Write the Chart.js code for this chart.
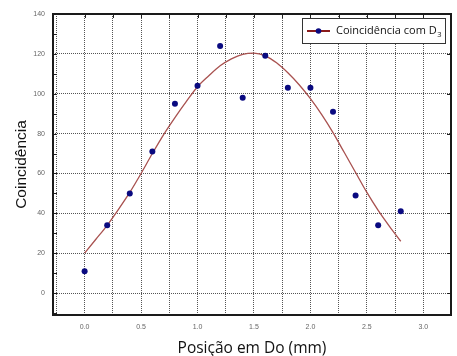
<!DOCTYPE html>
<html><head><meta charset="utf-8">
<script src="https://cdn.jsdelivr.net/npm/chart.js@4/dist/chart.umd.min.js"></script>
<style>html,body{margin:0;padding:0;background:#fff;} canvas{display:block;}</style>
</head><body>
<canvas id="c" width="457" height="356"></canvas>
<script>
// Measured points
const positions = [0.0, 0.2, 0.4, 0.6, 0.8, 1.0, 1.2, 1.4, 1.6, 1.8, 2.0, 2.2, 2.4, 2.6, 2.8];
const coincidences = [11, 34, 50, 71, 95, 104, 124, 98, 119, 103, 103, 91, 49, 34, 41];
// Fitted curve
const fitX = [0.0, 0.1, 0.2, 0.3, 0.4, 0.5, 0.6, 0.7, 0.8, 0.9, 1.0, 1.1, 1.2, 1.3, 1.4, 1.5, 1.6, 1.7, 1.8, 1.9, 2.0, 2.1, 2.2, 2.3, 2.4, 2.5, 2.6, 2.7, 2.8];
const fitY = [20, 27, 34, 42, 50.5, 60, 70, 79.5, 88, 96, 103.5, 109, 114, 117.5, 119.8, 120.4, 119, 115.5, 110.5, 104.5, 97.5, 89.5, 80.5, 70.5, 60.5, 50.5, 41.5, 33.5, 26];
// Labels
const xTitle = 'Posição em Do (mm)';
const yTitle = 'Coincidência';
const legendMain = 'Coincidência com D';
const legendSub = '3';

const pointData = positions.map((x, i) => ({x: x, y: coincidences[i]}));
const curveData = fitX.map((x, i) => ({x: x, y: fitY[i]}));

const framePlugin = {
  id: 'frame',
  afterDatasetsDraw(chart) {
    const {ctx, chartArea: a, scales} = chart;
    const xs = scales.x, ys = scales.y;
    ctx.save();
    ctx.strokeStyle = '#222';
    ctx.lineWidth = 1;
    ctx.beginPath();
    for (let v = -10; v <= 140; v += 10) {
      const py = Math.round(ys.getPixelForValue(v)) + 0.5;
      if (py < a.top || py > a.bottom) continue;
      ctx.moveTo(a.left, py); ctx.lineTo(a.left + 4, py);
      if (v % 20 === 0) { ctx.moveTo(a.right, py); ctx.lineTo(a.right - 4, py); }
    }
    for (let v = 0; v <= 3.25; v += 0.25) {
      const px = Math.round(xs.getPixelForValue(v)) + 0.5;
      if (px < a.left || px > a.right) continue;
      ctx.moveTo(px, a.top); ctx.lineTo(px, a.top + 4);
    }
    ctx.stroke();
    ctx.strokeStyle = '#1a1a1a';
    ctx.lineWidth = 2;
    ctx.strokeRect(a.left, a.top, a.right - a.left, a.bottom - a.top);
    // legend
    const bx = a.right - 149, by = a.top + 4, bw = 143, bh = 25;
    ctx.fillStyle = '#fff';
    ctx.fillRect(bx, by, bw, bh);
    ctx.lineWidth = 1;
    ctx.strokeStyle = '#333';
    ctx.strokeRect(bx + 0.5, by + 0.5, bw, bh);
    const cy = by + 13;
    ctx.strokeStyle = '#8b1c1c';
    ctx.lineWidth = 2;
    ctx.beginPath(); ctx.moveTo(bx + 5, cy); ctx.lineTo(bx + 28, cy); ctx.stroke();
    ctx.fillStyle = '#0a0a80';
    ctx.beginPath(); ctx.arc(bx + 16.5, cy, 2.8, 0, Math.PI * 2); ctx.fill();
    ctx.fillStyle = '#111';
    ctx.font = '11px "Open Sans"';
    ctx.textBaseline = 'middle';
    ctx.textAlign = 'left';
    ctx.fillText(legendMain, bx + 34, cy);
    const w = ctx.measureText(legendMain).width;
    ctx.font = '7.5px "Open Sans"';
    ctx.fillText(legendSub, bx + 34 + w + 0.5, cy + 4);
    ctx.restore();
  }
};

new Chart(document.getElementById('c'), {
  type: 'scatter',
  data: {
    datasets: [
      {
        label: 'fit',
        data: curveData,
        showLine: true,
        borderColor: '#a8514f',
        borderWidth: 1.3,
        pointRadius: 0,
        cubicInterpolationMode: 'monotone',
        fill: false,
        order: 2
      },
      {
        label: legendMain + legendSub,
        data: pointData,
        showLine: false,
        pointRadius: 3,
        pointBackgroundColor: '#0a0a80',
        pointBorderColor: '#0a0a80',
        pointBorderWidth: 0,
        order: 1
      }
    ]
  },
  options: {
    responsive: false,
    animation: false,
    devicePixelRatio: 1,
    layout: {padding: {left: 0, top: 14, right: 6, bottom: 0}},
    plugins: {legend: {display: false}, tooltip: {enabled: false}},
    scales: {
      x: {
        type: 'linear',
        min: -0.28,
        max: 3.245,
        afterFit(s) { s.height = 41; },
        grid: {color: '#555', lineWidth: 1, drawTicks: false},
        border: {display: false, dash: [1, 1]},
        ticks: {
          stepSize: 0.25,
          includeBounds: false,
          autoSkip: false,
          maxRotation: 0,
          padding: 8,
          color: '#666',
          font: {family: '"Liberation Sans", Arial', size: 7},
          callback(v) {
            const r = Math.round(v * 100);
            return (r % 50 === 0 && v >= 0 && v <= 3.01) ? (v).toFixed(1) : '';
          }
        },
        title: {
          display: true, text: xTitle, color: '#111',
          font: {family: '"Open Sans"', size: 15.5, lineHeight: 1.0},
          padding: {top: 0, bottom: 0}
        }
      },
      y: {
        type: 'linear',
        min: -11,
        max: 140,
        afterFit(s) { s.width = 53; },
        grid: {color: '#555', lineWidth: 1, drawTicks: false},
        border: {display: false, dash: [1, 1]},
        ticks: {
          stepSize: 20,
          includeBounds: false,
          padding: 8,
          color: '#666',
          font: {family: '"Liberation Sans", Arial', size: 7}
        },
        title: {
          display: true, text: yTitle, color: '#111',
          font: {family: '"Liberation Sans", Arial', size: 15.5, lineHeight: 1.2},
          padding: {top: 12, bottom: 0}
        }
      }
    }
  },
  plugins: [framePlugin]
});
</script>
</body></html>
